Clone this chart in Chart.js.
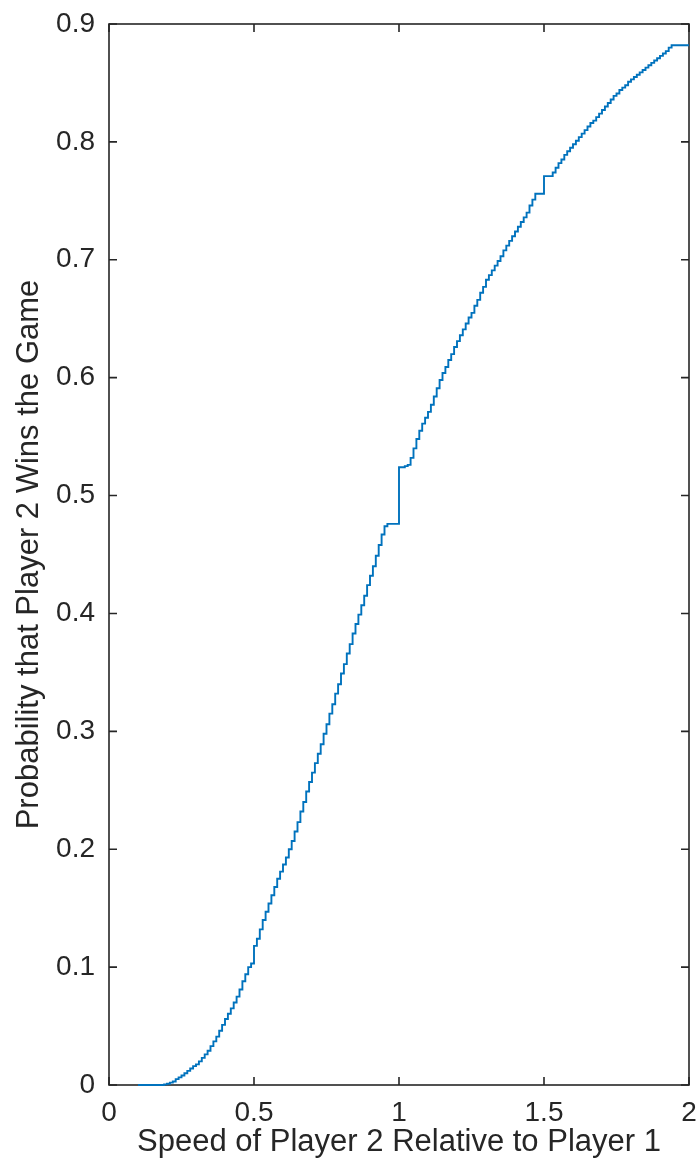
<!DOCTYPE html>
<html>
<head>
<meta charset="utf-8">
<script src="https://cdn.jsdelivr.net/npm/chart.js@4/dist/chart.umd.min.js"></script>
<style>
  html, body { margin: 0; padding: 0; background: #ffffff; }
  canvas { display: block; }
</style>
</head>
<body>
<canvas id="chart" width="699" height="1164"></canvas>
<script>
// Speed of player 2 relative to player 1
const speedRatio = [
  0.10, 0.11, 0.12, 0.13, 0.14, 0.15, 0.16, 0.17, 0.18, 0.19,
  0.20, 0.21, 0.22, 0.23, 0.24, 0.25, 0.26, 0.27, 0.28, 0.29,
  0.30, 0.31, 0.32, 0.33, 0.34, 0.35, 0.36, 0.37, 0.38, 0.39,
  0.40, 0.41, 0.42, 0.43, 0.44, 0.45, 0.46, 0.47, 0.48, 0.49,
  0.50, 0.51, 0.52, 0.53, 0.54, 0.55, 0.56, 0.57, 0.58, 0.59,
  0.60, 0.61, 0.62, 0.63, 0.64, 0.65, 0.66, 0.67, 0.68, 0.69,
  0.70, 0.71, 0.72, 0.73, 0.74, 0.75, 0.76, 0.77, 0.78, 0.79,
  0.80, 0.81, 0.82, 0.83, 0.84, 0.85, 0.86, 0.87, 0.88, 0.89,
  0.90, 0.91, 0.92, 0.93, 0.94, 0.95, 0.96, 0.97, 0.98, 0.99,
  1.00, 1.01, 1.02, 1.03, 1.04, 1.05, 1.06, 1.07, 1.08, 1.09,
  1.10, 1.11, 1.12, 1.13, 1.14, 1.15, 1.16, 1.17, 1.18, 1.19,
  1.20, 1.21, 1.22, 1.23, 1.24, 1.25, 1.26, 1.27, 1.28, 1.29,
  1.30, 1.31, 1.32, 1.33, 1.34, 1.35, 1.36, 1.37, 1.38, 1.39,
  1.40, 1.41, 1.42, 1.43, 1.44, 1.45, 1.46, 1.47, 1.48, 1.49,
  1.50, 1.51, 1.52, 1.53, 1.54, 1.55, 1.56, 1.57, 1.58, 1.59,
  1.60, 1.61, 1.62, 1.63, 1.64, 1.65, 1.66, 1.67, 1.68, 1.69,
  1.70, 1.71, 1.72, 1.73, 1.74, 1.75, 1.76, 1.77, 1.78, 1.79,
  1.80, 1.81, 1.82, 1.83, 1.84, 1.85, 1.86, 1.87, 1.88, 1.89,
  1.90, 1.91, 1.92, 1.93, 1.94, 1.95, 1.96, 1.97, 1.98, 1.99,
  2.00
];

// Probability that player 2 wins the game at each speed ratio
const winProbability = [
  0.000, 0.000, 0.000, 0.000, 0.000, 0.000, 0.000, 0.000, 0.000, 0.0005,
  0.001, 0.002, 0.003, 0.005, 0.0065, 0.008, 0.010, 0.012, 0.014, 0.016,
  0.0175, 0.020, 0.023, 0.026, 0.029, 0.033, 0.037, 0.041, 0.046, 0.051,
  0.056, 0.0605, 0.065, 0.070, 0.075, 0.081, 0.088, 0.094, 0.100, 0.103,
  0.118, 0.124, 0.132, 0.140, 0.147, 0.154, 0.161, 0.168, 0.175, 0.181,
  0.187, 0.193, 0.200, 0.207, 0.215, 0.223, 0.232, 0.240, 0.249, 0.257,
  0.265, 0.273, 0.281, 0.289, 0.298, 0.306, 0.315, 0.323, 0.332, 0.340,
  0.349, 0.357, 0.366, 0.374, 0.383, 0.391, 0.399, 0.407, 0.415, 0.424,
  0.432, 0.440, 0.449, 0.458, 0.467, 0.474, 0.476, 0.476, 0.476, 0.476,
  0.524, 0.524, 0.525, 0.526, 0.532, 0.540, 0.548, 0.555, 0.561, 0.566,
  0.571, 0.577, 0.584, 0.591, 0.598, 0.604, 0.609, 0.615, 0.620, 0.626,
  0.631, 0.636, 0.641, 0.646, 0.651, 0.655, 0.661, 0.666, 0.672, 0.677,
  0.683, 0.687, 0.691, 0.695, 0.699, 0.703, 0.708, 0.712, 0.716, 0.720,
  0.724, 0.728, 0.732, 0.736, 0.740, 0.746, 0.751, 0.756, 0.756, 0.756,
  0.771, 0.771, 0.771, 0.774, 0.778, 0.782, 0.785, 0.789, 0.792, 0.795,
  0.798, 0.801, 0.804, 0.807, 0.810, 0.813, 0.816, 0.818, 0.821, 0.824,
  0.827, 0.830, 0.833, 0.836, 0.839, 0.841, 0.844, 0.846, 0.848, 0.851,
  0.853, 0.855, 0.857, 0.859, 0.861, 0.863, 0.865, 0.867, 0.869, 0.871,
  0.873, 0.875, 0.877, 0.880, 0.882, 0.882, 0.882, 0.882, 0.882, 0.882,
  0.882
];

// Axis tick values and their labels
const xTickValues = [0, 0.5, 1, 1.5, 2];
const xTickLabels = ['0', '0.5', '1', '1.5', '2'];
const yTickValues = [0, 0.1, 0.2, 0.3, 0.4, 0.5, 0.6, 0.7, 0.8, 0.9];
const yTickLabels = ['0', '0.1', '0.2', '0.3', '0.4', '0.5', '0.6', '0.7', '0.8', '0.9'];

const xTitle = 'Speed of Player 2 Relative to Player 1';
const yTitle = 'Probability that Player 2 Wins the Game';

const AXIS_COLOR = '#262626';
const LINE_COLOR = '#0072BD';
const FONT_FAMILY = '"Liberation Sans", Arial, Helvetica, sans-serif';

const points = speedRatio.map((s, i) => ({ x: s, y: winProbability[i] }));

// White page background
const backgroundPlugin = {
  id: 'whiteBackground',
  beforeDraw(chart) {
    const ctx = chart.ctx;
    ctx.save();
    ctx.fillStyle = '#ffffff';
    ctx.fillRect(0, 0, chart.width, chart.height);
    ctx.restore();
  }
};

// Boxed axes with inward tick marks on all four sides
const boxAxesPlugin = {
  id: 'boxAxes',
  beforeDatasetsDraw(chart) {
    const { ctx, chartArea: a, scales } = chart;
    const tickLen = 8;
    ctx.save();
    ctx.strokeStyle = AXIS_COLOR;
    ctx.lineWidth = 1.6;
    ctx.beginPath();
    xTickValues.forEach(v => {
      const px = scales.x.getPixelForValue(v);
      ctx.moveTo(px, a.bottom); ctx.lineTo(px, a.bottom - tickLen);
      ctx.moveTo(px, a.top); ctx.lineTo(px, a.top + tickLen);
    });
    yTickValues.forEach(v => {
      const py = scales.y.getPixelForValue(v);
      ctx.moveTo(a.left, py); ctx.lineTo(a.left + tickLen, py);
      ctx.moveTo(a.right, py); ctx.lineTo(a.right - tickLen, py);
    });
    ctx.stroke();
    ctx.strokeRect(a.left, a.top, a.right - a.left, a.bottom - a.top);
    ctx.restore();
  }
};

// Keep the plot box where the layout padding puts it (labels may overhang)
function noOverhang(scale) {
  scale.paddingLeft = 0;
  scale.paddingRight = 0;
  scale.paddingTop = 0;
  scale.paddingBottom = 0;
}

new Chart(document.getElementById('chart'), {
  type: 'line',
  data: {
    datasets: [{
      data: points,
      borderColor: LINE_COLOR,
      borderWidth: 1.9,
      pointRadius: 0,
      stepped: 'before',
      fill: false,
      clip: false
    }]
  },
  options: {
    responsive: false,
    animation: false,
    events: [],
    layout: { padding: { top: 24, right: 10, left: 0, bottom: 0 } },
    plugins: {
      legend: { display: false },
      tooltip: { enabled: false }
    },
    scales: {
      x: {
        type: 'linear',
        min: 0,
        max: 2,
        offset: false,
        grid: { display: false, drawTicks: false },
        border: { display: false },
        afterBuildTicks(scale) { scale.ticks = xTickValues.map(v => ({ value: v })); },
        afterFit(scale) { scale.height = 79; noOverhang(scale); },
        ticks: {
          padding: 11,
          color: AXIS_COLOR,
          font: { family: FONT_FAMILY, size: 28 },
          maxRotation: 0,
          callback: (v) => xTickLabels[xTickValues.indexOf(v)]
        },
        title: {
          display: true,
          text: xTitle,
          color: AXIS_COLOR,
          font: { family: FONT_FAMILY, size: 31 },
          padding: { top: 0, bottom: 3 }
        }
      },
      y: {
        type: 'linear',
        min: 0,
        max: 0.9,
        grid: { display: false, drawTicks: false },
        border: { display: false },
        afterBuildTicks(scale) { scale.ticks = yTickValues.map(v => ({ value: v })); },
        afterFit(scale) { scale.width = 109; noOverhang(scale); },
        ticks: {
          padding: 14,
          color: AXIS_COLOR,
          font: { family: FONT_FAMILY, size: 28 },
          callback: (v) => yTickLabels[yTickValues.indexOf(v)]
        },
        title: {
          display: true,
          text: yTitle,
          color: AXIS_COLOR,
          font: { family: FONT_FAMILY, size: 31 },
          padding: { top: 11, bottom: 0 }
        }
      }
    }
  },
  plugins: [backgroundPlugin, boxAxesPlugin]
});
</script>
</body>
</html>
